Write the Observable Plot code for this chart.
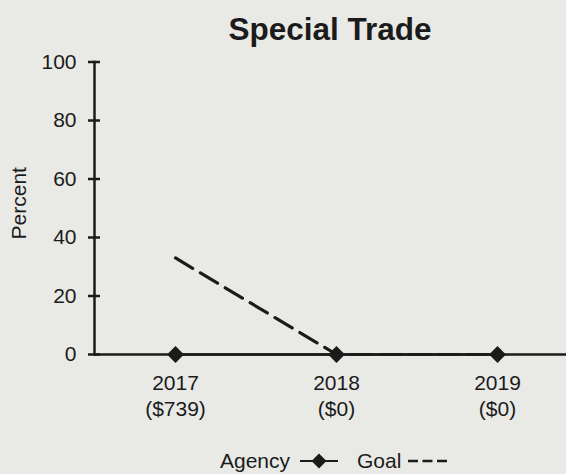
<!DOCTYPE html>
<html>
<head>
<meta charset="utf-8">
<script src="https://cdn.jsdelivr.net/npm/d3@7"></script>
<script src="https://cdn.jsdelivr.net/npm/@observablehq/plot@0.6"></script>
<style>
  html, body { margin: 0; padding: 0; background: #e9e9e6; overflow: hidden; }
  body { width: 566px; height: 474px; position: relative;
         font-family: "Liberation Sans", Arial, Helvetica, sans-serif; color: #1b1b1b; }
  #title { position: absolute; left: 94px; top: 0; width: 472px; height: 50px;
           text-align: center; font-weight: bold; font-size: 31.5px; line-height: 58px; }
  #chart { position: absolute; left: 0; top: 50px; }
  #legend { position: absolute; left: 0; top: 449px; width: 566px; height: 24px; font-size: 21px; line-height: 24px; }
  #legend > * { position: absolute; top: 0; }
  #legend svg { display: block; top: 2px; }
</style>
</head>
<body>
<div id="title">Special Trade</div>
<div id="chart"></div>
<div id="legend">
  <span style="left:220px">Agency</span>
  <svg width="38" height="20" style="left:300px">
    <line x1="0" y1="10" x2="38" y2="10" stroke="#1b1b1b" stroke-width="2"></line>
    <path d="M19,2.5 L26.5,10 L19,17.5 L11.5,10 Z" fill="#1b1b1b"></path>
  </svg>
  <span style="left:357px">Goal</span>
  <svg width="40" height="20" style="left:408px">
    <line x1="0" y1="10" x2="40" y2="10" stroke="#1b1b1b" stroke-width="2.5" stroke-dasharray="10,4.5"></line>
  </svg>
</div>
<script>
const years = ["2017", "2018", "2019"];
const amounts = ["($739)", "($0)", "($0)"];
const agency = [0, 0, 0];
const goal = [33, 0, 0];
const yTicks = [0, 20, 40, 60, 80, 100];

const agencyData = years.map((y, i) => ({year: y, value: agency[i]}));
const goalData = years.map((y, i) => ({year: y, value: goal[i]}));
const xLabels = years.map((y, i) => y + "\n" + amounts[i]);

const ink = "#1b1b1b";

const chart = Plot.plot({
  width: 566,
  height: 390,
  marginTop: 11.5,
  marginBottom: 86,
  marginLeft: 94,
  marginRight: 0,
  style: {background: "transparent", fontFamily: '"Liberation Sans", Arial, Helvetica, sans-serif', fontSize: "21px", color: ink, overflow: "visible"},
  x: {type: "point", domain: years, range: [175, 497], padding: 0, axis: null},
  y: {domain: [0, 100]},
  marks: [
    Plot.frame({anchor: "left", stroke: ink, strokeWidth: 2.5}),
    Plot.axisY(yTicks, {tickSize: 12, dx: 6, tickPadding: 12, stroke: ink, strokeWidth: 2.5, fill: ink, fontSize: 21, label: null}),
    Plot.ruleY([0], {stroke: ink, strokeWidth: 2.5}),
    Plot.line(agencyData, {x: "year", y: "value", stroke: ink, strokeWidth: 2.5}),
    Plot.line(goalData, {x: "year", y: "value", stroke: ink, strokeWidth: 3.2, strokeDasharray: "20,9"}),
    Plot.dot(agencyData, {x: "year", y: "value", symbol: "diamond2", r: 7.6, fill: ink, stroke: "none"}),
    Plot.text(years, {x: d => d, text: (d, i) => xLabels[i], frameAnchor: "bottom", lineAnchor: "top", dy: 17, lineHeight: 1.23, fontSize: 21, fill: ink}),
    Plot.text(["Percent"], {frameAnchor: "left", textAnchor: "middle", rotate: -90, dx: -75, dy: -5, fontSize: 21, fill: ink})
  ]
});
document.getElementById("chart").appendChild(chart);
</script>
</body>
</html>
